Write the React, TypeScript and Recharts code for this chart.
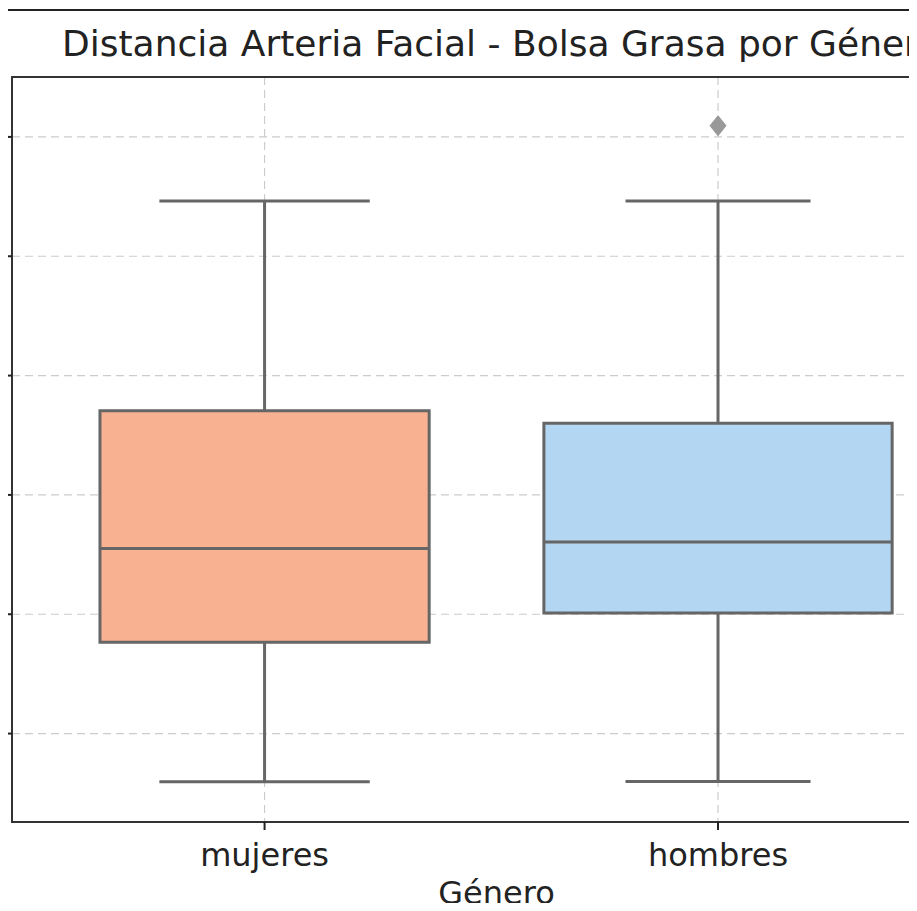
import {
  ComposedChart,
  XAxis,
  YAxis,
  CartesianGrid,
  ReferenceArea,
  ReferenceLine,
  Scatter,
  Label,
} from "recharts";

// box statistics per category (units of the hidden y axis)
const categories = ["mujeres", "hombres"];
const whiskerLow = [2.98, 2.99];
const q1 = [8.83, 10.05];
const median = [12.75, 13.03];
const q3 = [18.53, 18.0];
const whiskerHigh = [27.31, 27.31];

const outlierCategory = [1];
const outlierValue = [30.47];

const yTicks = [5, 10, 15, 20, 25, 30];

const X_DOMAIN: [number, number] = [-0.557, 1.43];
const Y_DOMAIN: [number, number] = [1.295, 32.51];

const boxHalf = [0.363, 0.384];
const capHalf = [0.232, 0.204];
const boxColors = ["#F8B291", "#B3D7F2"];
const EDGE = "#666666";
const FONT = "'DejaVu Sans', sans-serif";

const outlierData = outlierCategory.map((c, i) => ({ x: c, y: outlierValue[i] }));

const Diamond = (props: any) => {
  const { cx, cy } = props;
  if (cx == null || cy == null) return <g />;
  return (
    <polygon
      points={`${cx},${cy - 10} ${cx + 8},${cy} ${cx},${cy + 10} ${cx - 8},${cy}`}
      fill="#999999"
      stroke="#999999"
    />
  );
};

export default function App() {
  return (
    <div
      style={{
        position: "relative",
        width: 917,
        height: 911,
        margin: -8,
        background: "#fff",
        overflow: "hidden",
      }}
    >
      <ComposedChart
        width={917}
        height={911}
        margin={{ top: 77, right: 4, left: 0, bottom: 0 }}
      >
        <CartesianGrid stroke="#cccccc" strokeDasharray="8 5" strokeWidth={1.2} />
        <XAxis
          type="number"
          dataKey="x"
          domain={X_DOMAIN}
          ticks={[0, 1]}
          allowDataOverflow
          height={89}
          tickFormatter={(v: number) => categories[v] ?? ""}
          tick={{ fill: "#222", fontSize: 32, fontFamily: FONT }}
          tickSize={8}
          tickMargin={13}
          tickLine={{ stroke: "#222", strokeWidth: 2 }}
          axisLine={{ stroke: "#333", strokeWidth: 2 }}
        >
          <Label
            value="Género"
            position="insideBottom"
            offset={7}
            dx={34}
            style={{ fill: "#222", fontSize: 32, fontFamily: FONT }}
          />
        </XAxis>
        <YAxis
          type="number"
          domain={Y_DOMAIN}
          ticks={yTicks}
          allowDataOverflow
          width={12}
          tickSize={6}
          tickFormatter={() => ""}
          tickLine={{ stroke: "#222", strokeWidth: 2 }}
          axisLine={{ stroke: "#333", strokeWidth: 2 }}
        />
        <ReferenceArea
          x1={X_DOMAIN[0]}
          x2={X_DOMAIN[1]}
          y1={Y_DOMAIN[0]}
          y2={Y_DOMAIN[1]}
          fill="none"
          stroke="#333"
          strokeWidth={2}
          ifOverflow="visible"
        />
        {categories.map((_, i) => (
          <ReferenceLine
            key={`wl-${i}`}
            segment={[
              { x: i, y: whiskerLow[i] },
              { x: i, y: q1[i] },
            ]}
            stroke={EDGE}
            strokeWidth={3}
          />
        ))}
        {categories.map((_, i) => (
          <ReferenceLine
            key={`wh-${i}`}
            segment={[
              { x: i, y: q3[i] },
              { x: i, y: whiskerHigh[i] },
            ]}
            stroke={EDGE}
            strokeWidth={3}
          />
        ))}
        {categories.map((_, i) => (
          <ReferenceLine
            key={`cl-${i}`}
            segment={[
              { x: i - capHalf[i], y: whiskerLow[i] },
              { x: i + capHalf[i], y: whiskerLow[i] },
            ]}
            stroke={EDGE}
            strokeWidth={3}
          />
        ))}
        {categories.map((_, i) => (
          <ReferenceLine
            key={`ch-${i}`}
            segment={[
              { x: i - capHalf[i], y: whiskerHigh[i] },
              { x: i + capHalf[i], y: whiskerHigh[i] },
            ]}
            stroke={EDGE}
            strokeWidth={3}
          />
        ))}
        {categories.map((_, i) => (
          <ReferenceArea
            key={`box-${i}`}
            x1={i - boxHalf[i]}
            x2={i + boxHalf[i]}
            y1={q1[i]}
            y2={q3[i]}
            fill={boxColors[i]}
            fillOpacity={1}
            stroke={EDGE}
            strokeWidth={3}
          />
        ))}
        {categories.map((_, i) => (
          <ReferenceLine
            key={`med-${i}`}
            segment={[
              { x: i - boxHalf[i], y: median[i] },
              { x: i + boxHalf[i], y: median[i] },
            ]}
            stroke={EDGE}
            strokeWidth={3}
          />
        ))}
        <Scatter data={outlierData} dataKey="y" shape={Diamond} isAnimationActive={false} />
      </ComposedChart>
      <div
        style={{
          position: "absolute",
          left: 6,
          top: 9,
          width: 905,
          height: 900,
          borderTop: "2px solid #222",
          borderRight: "2px solid #222",
          pointerEvents: "none",
        }}
      />
      <div
        style={{
          position: "absolute",
          left: 0,
          top: 26,
          width: 912,
          paddingLeft: 62,
          boxSizing: "border-box",
          overflow: "hidden",
          whiteSpace: "nowrap",
          fontFamily: FONT,
          fontSize: 36,
          lineHeight: "36px",
          color: "#222",
        }}
      >
        Distancia Arteria Facial - Bolsa Grasa por Género
      </div>
    </div>
  );
}
